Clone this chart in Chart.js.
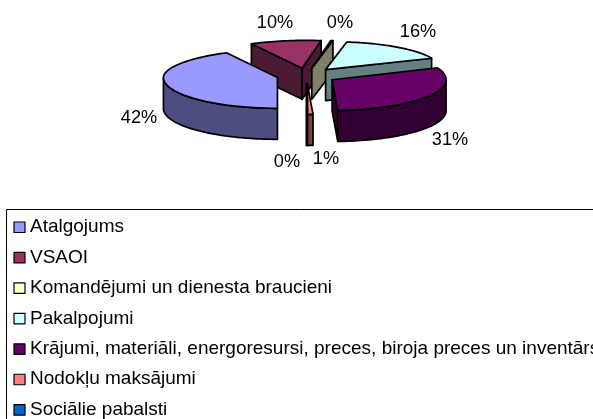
<!DOCTYPE html>
<html><head><meta charset="utf-8">
<style>html,body{margin:0;padding:0;background:#fff}#w{width:593px;height:419px;position:relative;overflow:hidden}</style>
<script src="https://cdn.jsdelivr.net/npm/chart.js@4"></script>
</head><body><div id="w"><canvas id="c"></canvas></div>
<script>
const categories = ["Atalgojums","VSAOI","Komandējumi un dienesta braucieni","Pakalpojumi","Krājumi, materiāli, energoresursi, preces, biroja preces un inventārs","Nodokļu maksājumi","Sociālie pabalsti"];
const shares = [42,10,0.3,16,30.9,0.75,0.05];
const topColors = ["#9999ff","#993366","#ffffcc","#ccffff","#660066","#ff8080","#0066cc"];
const sideColors = ["#4d4d80","#4d1a33","#808066","#668080","#330033","#804040","#003366"];
const labelPlaces = [[139,118],[275,23],[340,23],[418,32],[450,140],[326,159],[287,162]];
const drawOrder = [1,2,3,0,4,5,6];
const font = '18.2px "Liberation Sans", Arial, sans-serif';
const legendFont = '19px "Liberation Sans", Arial, sans-serif';
const tilt = 0.27, depth = 31, explode = 30, centerY = 75.5, backShear = 0.042, backFlatten = 0.025;

const pie3d = {
  id:'pie3d',
  beforeDatasetsDraw(chart){
    const ctx = chart.ctx, arcs = chart.getDatasetMeta(0).data;
    const total = shares.reduce((a,b)=>a+b,0);
    ctx.save();
    ctx.lineWidth = 1.7; ctx.lineJoin='round'; ctx.strokeStyle='#000';
    const poly = (pts,fill)=>{ctx.beginPath();pts.forEach((p,i)=>i?ctx.lineTo(p[0],p[1]):ctx.moveTo(p[0],p[1]));ctx.closePath();ctx.fillStyle=fill;ctx.fill();ctx.stroke();};
    drawOrder.forEach(i=>{
      const arc = arcs[i], s=arc.startAngle, e=arc.endAngle, mid=(s+e)/2, R=arc.outerRadius;
      const pt=(a,r,dz)=>{
        const g=explode*Math.sin(mid)+r*Math.sin(a), back=Math.max(0,-g);
        return [arc.x+explode*Math.cos(mid)+r*Math.cos(a)+backShear*back, centerY+tilt*g+backFlatten*back+dz];
      };
      const down=(a)=>[pt(0,0,0),pt(a,R,0),pt(a,R,depth),pt(0,0,depth)];
      if(Math.cos(s)<0) poly(down(s),sideColors[i]);
      if(Math.cos(e)>0) poly(down(e),sideColors[i]);
      const n=Math.max(2,Math.ceil((e-s)/0.03));
      const rim=[];for(let j=0;j<=n;j++)rim.push(s+(e-s)*j/n);
      const front=rim.filter(a=>Math.sin(a)>=0);
      if(front.length>1) poly(front.map(a=>pt(a,R,0)).concat(front.slice().reverse().map(a=>pt(a,R,depth))),sideColors[i]);
      poly([pt(0,0,0)].concat(rim.map(a=>pt(a,R,0))),topColors[i]);
    });
    ctx.fillStyle='#000';ctx.font=font;ctx.textAlign='center';ctx.textBaseline='middle';
    shares.forEach((v,i)=>ctx.fillText(Math.round(v/total*100)+'%',labelPlaces[i][0],labelPlaces[i][1]));
    ctx.lineWidth=1;ctx.strokeRect(6.5,209.5,900,900);
    ctx.font=legendFont;ctx.textAlign='left';
    ctx.lineWidth=1.2;
    categories.forEach((t,i)=>{
      const y=227+i*30.45;
      ctx.fillStyle=topColors[i];ctx.fillRect(14,y-5,11,10.5);ctx.strokeRect(14,y-5,11,10.5);
      ctx.fillStyle='#000';ctx.fillText(t,30,y);
    });
    ctx.restore();
    return false;
  }
};
new Chart(document.getElementById('c'),{
  type:'pie',
  data:{labels:categories,datasets:[{data:shares,backgroundColor:topColors,borderWidth:0}]},
  options:{responsive:true,maintainAspectRatio:false,animation:false,rotation:180,
    layout:{padding:{left:20,right:0,top:0,bottom:191}},
    plugins:{legend:{display:false},tooltip:{enabled:false},title:{display:false}}},
  plugins:[pie3d]
});
</script></body></html>
